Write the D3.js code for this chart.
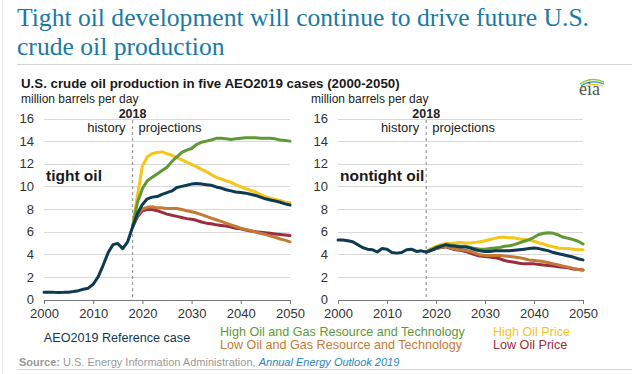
<!DOCTYPE html>
<html lang="en">
<head>
<meta charset="UTF-8">
<title>tight oil</title>
<script src="https://cdn.jsdelivr.net/npm/d3@7"></script>
<style>
  body { margin: 0; background: #fff; }
  text { font-family: "Liberation Sans", Arial, sans-serif; }
  .grid line { stroke: #d9d9d9; stroke-width: 1px; }
  .tick text { fill: #333; font-size: 13px; }
</style>
</head>
<body>
<svg id="chart" width="637" height="374"></svg>
<script>
// years
var histYears = d3.range(2000, 2019);
var projYears = d3.range(2018, 2051);

// tight oil, history + projections
var tightHist = [0.65, 0.65, 0.63, 0.62, 0.63, 0.65, 0.7, 0.78, 0.9, 1.0, 1.35, 2.0, 3.0, 4.1, 4.85, 4.95, 4.5, 5.1, 6.4];
var tightRef = [6.4, 7.6, 8.4, 8.9, 9.05, 9.1, 9.3, 9.45, 9.6, 9.9, 10.0, 10.1, 10.2, 10.25, 10.2, 10.15, 10.1, 9.95, 9.85, 9.7, 9.6, 9.5, 9.45, 9.4, 9.3, 9.2, 9.05, 8.9, 8.8, 8.7, 8.6, 8.45, 8.35];
var tightHighPrice = [6.4, 9.2, 11.8, 12.6, 12.9, 13.0, 13.05, 12.9, 12.75, 12.55, 12.35, 12.15, 11.95, 11.75, 11.5, 11.3, 11.05, 10.8, 10.65, 10.5, 10.35, 10.15, 9.95, 9.8, 9.65, 9.5, 9.3, 9.1, 8.95, 8.85, 8.75, 8.6, 8.55];
var tightHighRes = [6.4, 8.6, 9.8, 10.5, 10.8, 11.1, 11.4, 11.7, 12.2, 12.6, 13.0, 13.2, 13.35, 13.7, 13.9, 14.0, 14.1, 14.25, 14.25, 14.2, 14.15, 14.2, 14.25, 14.3, 14.3, 14.3, 14.25, 14.25, 14.25, 14.2, 14.1, 14.05, 14.0];
var tightLowRes = [6.4, 7.5, 8.0, 8.15, 8.2, 8.1, 8.1, 8.05, 8.05, 8.05, 7.95, 7.85, 7.75, 7.65, 7.5, 7.35, 7.2, 7.05, 6.9, 6.75, 6.6, 6.45, 6.3, 6.2, 6.1, 5.95, 5.85, 5.75, 5.6, 5.5, 5.35, 5.25, 5.1];
var tightLowPrice = [6.4, 7.3, 7.85, 7.95, 7.95, 7.85, 7.7, 7.55, 7.45, 7.35, 7.25, 7.15, 7.1, 7.0, 6.85, 6.75, 6.7, 6.6, 6.55, 6.5, 6.4, 6.3, 6.25, 6.15, 6.05, 6.0, 5.95, 5.9, 5.85, 5.8, 5.75, 5.7, 5.65];

// nontight oil
var nonHist = [5.25, 5.25, 5.2, 5.1, 4.85, 4.6, 4.45, 4.4, 4.2, 4.5, 4.45, 4.15, 4.1, 4.15, 4.4, 4.45, 4.25, 4.3, 4.2];
var nonRef = [4.2, 4.35, 4.55, 4.7, 4.85, 4.75, 4.7, 4.65, 4.65, 4.55, 4.4, 4.3, 4.25, 4.25, 4.3, 4.3, 4.3, 4.3, 4.35, 4.4, 4.45, 4.5, 4.55, 4.5, 4.4, 4.3, 4.15, 4.05, 3.95, 3.85, 3.75, 3.6, 3.5];
var nonHighPrice = [4.2, 4.5, 4.7, 4.85, 4.95, 4.95, 5.0, 5.05, 5.0, 5.0, 5.05, 5.1, 5.2, 5.3, 5.4, 5.5, 5.5, 5.45, 5.45, 5.35, 5.3, 5.25, 5.15, 5.0, 4.9, 4.75, 4.65, 4.55, 4.5, 4.5, 4.45, 4.4, 4.4];
var nonHighRes = [4.2, 4.4, 4.6, 4.75, 4.85, 4.8, 4.75, 4.7, 4.7, 4.6, 4.5, 4.45, 4.45, 4.5, 4.55, 4.6, 4.7, 4.75, 4.85, 5.0, 5.15, 5.3, 5.5, 5.75, 5.85, 5.9, 5.85, 5.7, 5.5, 5.4, 5.3, 5.15, 4.9];
var nonLowRes = [4.2, 4.35, 4.5, 4.6, 4.7, 4.55, 4.45, 4.4, 4.35, 4.25, 4.1, 3.95, 3.9, 3.9, 3.9, 3.9, 3.85, 3.8, 3.75, 3.7, 3.6, 3.5, 3.45, 3.4, 3.35, 3.25, 3.15, 3.05, 2.95, 2.85, 2.75, 2.65, 2.6];
var nonLowPrice = [4.2, 4.35, 4.5, 4.6, 4.65, 4.5, 4.4, 4.35, 4.25, 4.1, 3.95, 3.85, 3.8, 3.75, 3.7, 3.6, 3.45, 3.35, 3.3, 3.2, 3.15, 3.15, 3.15, 3.1, 3.05, 3.0, 2.95, 2.9, 2.85, 2.8, 2.7, 2.65, 2.6];

var yTicks = [0, 2, 4, 6, 8, 10, 12, 14, 16];
var xTicks = [2000, 2010, 2020, 2030, 2040, 2050];

var cases = ["Low Oil Price", "Low Oil and Gas Resource and Technology", "High Oil Price", "High Oil and Gas Resource and Technology", "AEO2019 Reference case"];
var colors = ["#9b2d3f", "#c47a34", "#f5c518", "#5f9837", "#0e3a52"];

var svg = d3.select("#chart");

// frame lines
svg.append("line").attr("x1", 2.5).attr("x2", 2.5).attr("y1", 0).attr("y2", 374).attr("stroke", "#e6e6e6");

// title
var title = svg.append("text").attr("x", 17).attr("y", 26)
  .style("font-family", "'Liberation Serif', 'Times New Roman', serif")
  .style("font-size", "25.6px").attr("fill", "#1a7aa5");
title.append("tspan").attr("x", 17).text("Tight oil development will continue to drive future U.S.");
title.append("tspan").attr("x", 17).attr("dy", 28.5).text("crude oil production");

svg.append("line").attr("x1", 17).attr("x2", 632).attr("y1", 64.5).attr("y2", 64.5).attr("stroke", "#d4d4d4");

svg.append("text").attr("x", 21).attr("y", 88)
  .style("font-size", "13.3px").style("font-weight", "bold").attr("fill", "#1a1a1a")
  .text("U.S. crude oil production in five AEO2019 cases (2000-2050)");

// eia logo
var logo = svg.append("g").attr("transform", "translate(577,78)");
logo.append("path").attr("d", "M3,6 Q14,-2 27,4").attr("fill", "none").attr("stroke", "#8cc63f").attr("stroke-width", 1.5);
logo.append("path").attr("d", "M4,8 Q14,1 27,6").attr("fill", "none").attr("stroke", "#2e8fc9").attr("stroke-width", 1.2);
logo.append("path").attr("d", "M5,10 Q14,4 26,8").attr("fill", "none").attr("stroke", "#f2b705").attr("stroke-width", 1);
logo.append("text").attr("x", 2).attr("y", 17)
  .style("font-family", "'Liberation Serif', serif").style("font-size", "18px").attr("fill", "#555").text("eia");

function panel(x0, x1, unitX, label, hist, series) {
  var x = d3.scaleLinear().domain([2000, 2050]).range([x0, x1]);
  var y = d3.scaleLinear().domain([0, 16]).range([299.5, 118.5]);
  var g = svg.append("g");

  g.append("text").attr("x", unitX).attr("y", 103).style("font-size", "12px").attr("fill", "#222")
    .text("million barrels per day");

  g.append("g").attr("class", "grid")
    .selectAll("line").data(yTicks.filter(function (d) { return d > 0; })).join("line")
    .attr("x1", x0).attr("x2", x1).attr("y1", function (d) { return Math.round(y(d)) + 0.5; })
    .attr("y2", function (d) { return Math.round(y(d)) + 0.5; });

  var ya = g.append("g").attr("transform", "translate(" + (x0 - 10) + ",0)")
    .call(d3.axisLeft(y).tickValues(yTicks).tickSize(0).tickPadding(0));
  ya.select(".domain").remove();

  var xa = g.append("g").attr("transform", "translate(0," + 300 + ")")
    .call(d3.axisBottom(x).tickValues(xTicks).tickSize(4).tickPadding(5).tickFormat(d3.format("d")));
  xa.select(".domain").attr("stroke", "#777");
  xa.selectAll(".tick line").attr("stroke", "#777");

  // 2018 divider
  var xd = x(2018);
  g.append("line").attr("x1", xd).attr("x2", xd).attr("y1", 120).attr("y2", 300)
    .attr("stroke", "#9a9a9a").attr("stroke-width", 1.2).attr("stroke-dasharray", "3,3");
  g.append("text").attr("x", xd).attr("y", 117.5).attr("text-anchor", "middle")
    .style("font-size", "12.5px").style("font-weight", "bold").attr("fill", "#222").text("2018");
  g.append("text").attr("x", xd - 7).attr("y", 132).attr("text-anchor", "end")
    .style("font-size", "13px").attr("fill", "#222").text("history");
  g.append("text").attr("x", xd + 6).attr("y", 132)
    .style("font-size", "13px").attr("fill", "#222").text("projections");

  g.append("text").attr("x", x0 + 2).attr("y", 181)
    .style("font-size", "15.5px").style("font-weight", "bold").attr("fill", "#1a1a1a").text(label);

  var line = d3.line().x(function (d) { return x(d[0]); }).y(function (d) { return y(d[1]); });

  series.forEach(function (s, i) {
    var pts = projYears.map(function (yr, j) { return [yr, s[j]]; });
    if (i === series.length - 1) {
      pts = histYears.map(function (yr, j) { return [yr, hist[j]]; }).concat(pts.slice(1));
    }
    g.append("path").datum(pts).attr("d", line)
      .attr("fill", "none").attr("stroke", colors[i]).attr("stroke-width", 3)
      .attr("stroke-linejoin", "round").attr("stroke-linecap", "round");
  });
}

panel(44, 290, 21, "tight oil", tightHist, [tightLowPrice, tightLowRes, tightHighPrice, tightHighRes, tightRef]);
panel(338, 583, 311, "nontight oil", nonHist, [nonLowPrice, nonLowRes, nonHighPrice, nonHighRes, nonRef]);

// legend
var legend = [
  { name: cases[4], color: colors[4], x: 117, y: 342, anchor: "middle" },
  { name: cases[3], color: colors[3], x: 220, y: 335.5, anchor: "start" },
  { name: cases[1], color: colors[1], x: 220, y: 349, anchor: "start" },
  { name: cases[2], color: colors[2], x: 493, y: 335.5, anchor: "start" },
  { name: cases[0], color: colors[0], x: 493, y: 349, anchor: "start" }
];
svg.append("g").selectAll("text").data(legend).join("text")
  .attr("x", function (d) { return d.x; }).attr("y", function (d) { return d.y; })
  .attr("text-anchor", function (d) { return d.anchor; })
  .style("font-size", "12.6px").attr("fill", function (d) { return d.color; })
  .text(function (d) { return d.name; });

// source
var src = svg.append("text").attr("x", 19).attr("y", 366).style("font-size", "11px").attr("fill", "#999");
src.append("tspan").style("font-weight", "bold").text("Source: ");
src.append("tspan").text("U.S. Energy Information Administration, ");
src.append("tspan").style("font-style", "italic").attr("fill", "#2a86b8").text("Annual Energy Outlook 2019");

svg.append("line").attr("x1", 17).attr("x2", 632).attr("y1", 369.5).attr("y2", 369.5).attr("stroke", "#d4d4d4");
</script>
</body>
</html>
